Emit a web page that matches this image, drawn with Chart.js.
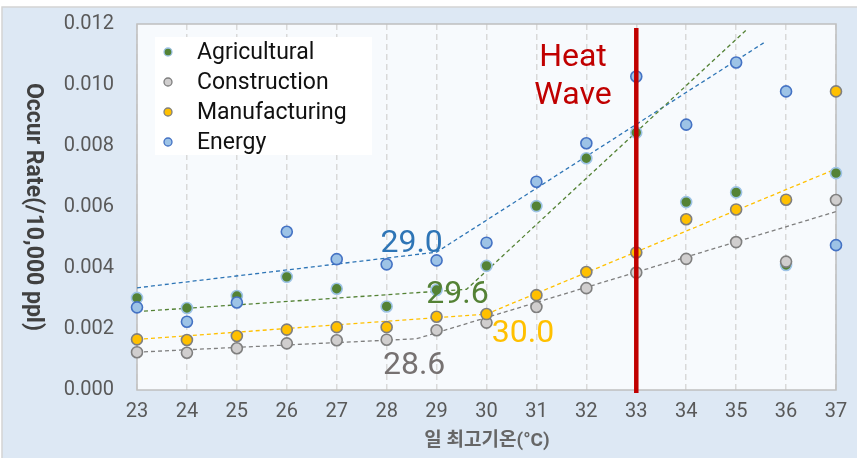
<!DOCTYPE html>
<html>
<head>
<meta charset="utf-8">
<script src="https://cdn.jsdelivr.net/npm/chart.js@4.4.1/dist/chart.umd.min.js"></script>
<style>
    html, body { margin: 0; padding: 0; background: #fff; }
    #wrap { width: 857px; height: 458px; position: relative; }
</style>
</head>
<body>
<div id="wrap"><canvas id="chart"></canvas></div>
<script>
// daily max temperature (°C)
const temps = [23, 24, 25, 26, 27, 28, 29, 30, 31, 32, 33, 34, 35, 36, 37];

// occurrence rate per 10,000 people
const agricultural  = [0.00302, 0.00269, 0.00308, 0.00371, 0.00332, 0.00274, 0.00328, 0.00407, 0.00603, 0.00760, 0.00844, 0.00616, 0.00648, 0.00410, 0.00711];
const construction  = [0.00124, 0.00122, 0.00137, 0.00153, 0.00163, 0.00165, 0.00196, 0.00221, 0.00272, 0.00334, 0.00385, 0.00430, 0.00485, 0.00421, 0.00623];
const manufacturing = [0.00166, 0.00164, 0.00177, 0.00198, 0.00206, 0.00206, 0.00240, 0.00249, 0.00311, 0.00387, 0.00451, 0.00560, 0.00592, 0.00624, 0.00979];
const energy        = [0.00271, 0.00224, 0.00287, 0.00519, 0.00429, 0.00412, 0.00425, 0.00483, 0.00683, 0.00809, 0.01028, 0.00870, 0.01074, 0.00979, 0.00475];

// segmented trend lines (start, breakpoint, end)
const agriTrendX  = [23, 29.6, 35.2];
const agriTrendY  = [0.00257, 0.00330, 0.01180];
const consTrendX  = [23, 28.6, 37];
const consTrendY  = [0.00124, 0.00168, 0.00585];
const manuTrendX  = [23, 30.0, 37];
const manuTrendY  = [0.00166, 0.00249, 0.00725];
const enerTrendX  = [23, 29.0, 35.56];
const enerTrendY  = [0.00335, 0.00452, 0.01139];

// breakpoint labels, anchored in data units (x centre, y baseline)
const breakLabels = ['29.0', '29.6', '30.0', '28.6'];
const breakLabelX = [28.50, 29.42, 30.73, 28.55];
const breakLabelY = [0.00453, 0.00284, 0.00158, 0.00052];
const breakColors = ['#2e75b6', '#548235', '#ffc000', '#767171'];

const heatWaveTemp = 33;
const heatWaveTop = 0.01187;

const yTicks = [0, 0.002, 0.004, 0.006, 0.008, 0.010, 0.012];

const FONT = 'Roboto, "Noto Sans CJK KR", sans-serif';

const pts = (xs, ys) => xs.map((x, i) => ({ x: x, y: ys[i] }));

const series = [
    { label: 'Agricultural', data: agricultural, bg: '#548235', border: '#9dc3e6', order: 4 },
    { label: 'Construction', data: construction, bg: '#d0cece', border: '#7f7f7f', order: 3 },
    { label: 'Manufacturing', data: manufacturing, bg: '#ffc000', border: '#7f7f7f', order: 2 },
    { label: 'Energy', data: energy, bg: '#9dc3e6', border: '#4472c4', order: 1 },
];

const trends = [
    { xs: agriTrendX, ys: agriTrendY, color: '#548235' },
    { xs: consTrendX, ys: consTrendY, color: '#7f7f7f' },
    { xs: manuTrendX, ys: manuTrendY, color: '#ffc000' },
    { xs: enerTrendX, ys: enerTrendY, color: '#2e75b6' },
];

const datasets = [];
series.forEach(s => {
    datasets.push({
        label: s.label,
        data: pts(temps, s.data),
        backgroundColor: s.bg,
        borderColor: s.border,
        pointRadius: 5.5,
        pointBorderWidth: 1.6,
        pointHoverRadius: 5.5,
        clip: false,
        order: s.order,
    });
});
trends.forEach(t => {
    datasets.push({
        label: 'trend',
        data: pts(t.xs, t.ys),
        showLine: true,
        borderColor: t.color,
        borderWidth: 1.3,
        borderDash: [4, 3],
        pointRadius: 0,
        fill: false,
        order: 10,
    });
});

const decor = {
    id: 'decor',
    beforeDraw(chart) {
        const { ctx, chartArea: a } = chart;
        ctx.save();
        ctx.fillStyle = '#ffffff';
        ctx.fillRect(0, 0, chart.width, chart.height);
        ctx.fillStyle = '#dde8f4';
        ctx.fillRect(2, 7, chart.width, chart.height);
        ctx.strokeStyle = '#d4d4d4';
        ctx.lineWidth = 1.5;
        ctx.strokeRect(2, 7, chart.width + 10, chart.height + 10);
        ctx.fillStyle = '#f7fafd';
        ctx.fillRect(a.left, a.top, a.right - a.left, a.bottom - a.top);
        ctx.restore();
    },
    beforeDatasetsDraw(chart) {
        const { ctx, chartArea: a } = chart;
        ctx.save();
        ctx.strokeStyle = '#bfbfbf';
        ctx.lineWidth = 1.5;
        ctx.strokeRect(a.left, a.top, a.right - a.left, a.bottom - a.top);
        ctx.restore();
    },
    afterDatasetsDraw(chart) {
        const { ctx, chartArea: a, scales: { x, y } } = chart;
        ctx.save();
        // heat wave marker
        const hx = x.getPixelForValue(heatWaveTemp);
        ctx.strokeStyle = '#c00000';
        ctx.lineWidth = 4.5;
        ctx.beginPath();
        ctx.moveTo(hx, y.getPixelForValue(heatWaveTop));
        ctx.lineTo(hx, a.bottom + 3);
        ctx.stroke();

        ctx.fillStyle = '#c00000';
        ctx.font = '32px ' + FONT;
        ctx.textAlign = 'center';
        ctx.textBaseline = 'alphabetic';
        ctx.fillText('Heat', 573, 66);
        ctx.fillText('Wave', 573, 104);

        // breakpoint labels
        breakLabels.forEach((t, i) => {
            ctx.fillStyle = breakColors[i];
            ctx.fillText(t, x.getPixelForValue(breakLabelX[i]), y.getPixelForValue(breakLabelY[i]));
        });

        // legend
        ctx.fillStyle = '#ffffff';
        ctx.fillRect(155, 37, 217, 118);
        ctx.font = '23px ' + FONT;
        ctx.textAlign = 'left';
        ctx.textBaseline = 'middle';
        series.forEach((s, i) => {
            const ly = 52 + i * 30;
            ctx.beginPath();
            ctx.arc(168, ly, 4, 0, Math.PI * 2);
            ctx.fillStyle = s.bg;
            ctx.fill();
            ctx.lineWidth = 1.3;
            ctx.strokeStyle = s.border;
            ctx.stroke();
            ctx.fillStyle = '#111111';
            ctx.fillText(s.label, 197, ly + 1);
        });
        ctx.restore();
    },
    afterDraw(chart) {
        const { ctx } = chart;
        ctx.save();
        // y title, reads top to bottom
        ctx.translate(33, 207);
        ctx.rotate(Math.PI / 2);
        ctx.fillStyle = '#404040';
        ctx.font = 'bold 23px ' + FONT;
        ctx.textAlign = 'center';
        ctx.textBaseline = 'middle';
        ctx.fillText('Occur Rate(/10,000 ppl)', 0, 0);
        ctx.restore();

        ctx.save();
        ctx.fillStyle = '#666666';
        ctx.font = 'bold 19px ' + FONT;
        ctx.textAlign = 'center';
        ctx.textBaseline = 'middle';
        ctx.fillText('일 최고기온(°C)', 487, 441);
        ctx.restore();
    }
};

new Chart(document.getElementById('chart'), {
    type: 'scatter',
    data: { datasets: datasets },
    options: {
        responsive: true,
        maintainAspectRatio: false,
        animation: false,
        layout: { padding: { top: 24, right: 21, left: 0, bottom: 0 } },
        plugins: {
            legend: { display: false },
            tooltip: { enabled: false },
        },
        scales: {
            x: {
                type: 'linear',
                min: 23,
                max: 37,
                afterFit: (s) => {
                    s.height = 68;
                    s.paddingLeft = 0;
                    s.paddingRight = 0;
                },
                ticks: {
                    stepSize: 1,
                    padding: 10,
                    color: '#595959',
                    font: { family: FONT, size: 20 },
                },
                grid: {
                    color: '#d9d9d9',
                    lineWidth: 1.5,
                    drawTicks: false,
                },
                border: { display: false, dash: [6, 4] },
            },
            y: {
                min: 0,
                max: 0.012,
                afterFit: (s) => {
                    s.width = 137;
                    s.paddingTop = 0;
                    s.paddingBottom = 0;
                },
                afterBuildTicks: (s) => { s.ticks = yTicks.map(v => ({ value: v })); },
                ticks: {
                    padding: 23,
                    color: '#595959',
                    font: { family: FONT, size: 20 },
                    callback: (v) => v.toFixed(3),
                },
                grid: { display: false, drawTicks: false },
                border: { display: false },
            },
        },
    },
    plugins: [decor],
});
</script>
</body>
</html>
